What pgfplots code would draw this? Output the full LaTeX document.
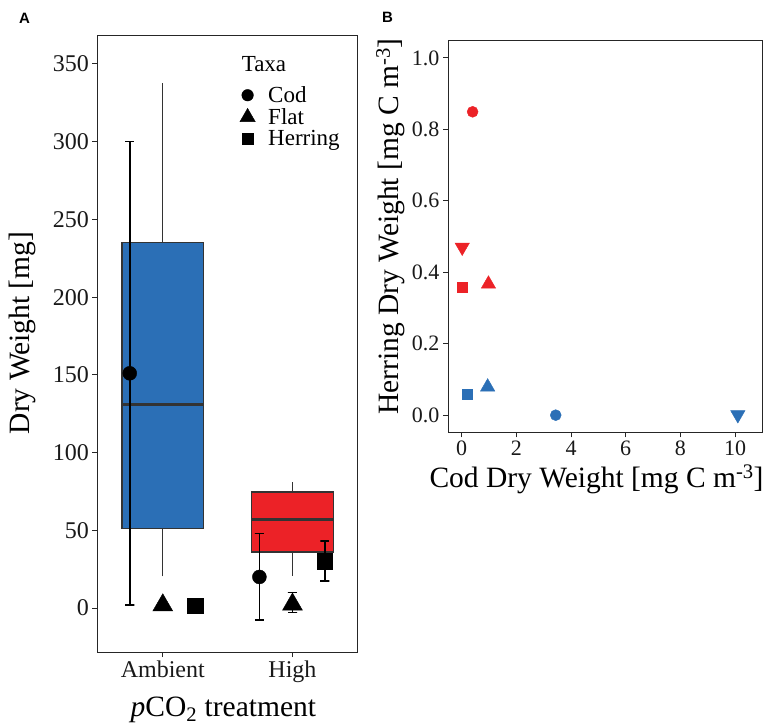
\documentclass[border=0pt]{standalone}
\usepackage{fontspec}
\setmainfont{Liberation Serif}
\newfontfamily\headfont{Liberation Sans}
\usepackage{pgfplots}
\pgfplotsset{compat=1.18}

\definecolor{ambblue}{HTML}{2B6FB6}
\definecolor{highred}{HTML}{EC2227}
\definecolor{boxline}{HTML}{333333}

\pgfplotsset{
  ggpanel/.style={
    scale only axis,
    axis line style={black!85, line width=1bp},
    tick style={black!85, line width=1bp},
    tick align=outside,
    major tick length=5bp,
    xtick pos=bottom, ytick pos=left,
    ticklabel style={font=\fontsize{22bp}{24bp}\selectfont, text=black!90},
    /pgf/number format/assume math mode=true,
    label style={font=\fontsize{29.5bp}{32bp}\selectfont},
    clip=false,
  },
  whisk/.style={forget plot, boxline, line width=1.2bp, no marks},
  ebar/.style={forget plot, black, line width=1.6bp, no marks},
}

\begin{document}
\begin{tikzpicture}
\path[use as bounding box] (0,0) rectangle (765bp,-725bp);

% ---------- panel A ----------
\begin{axis}[ggpanel,
    at={(97.3bp,-652bp)}, anchor=south west,
    width=260bp, height=616bp,
    ticklabel style={font=\fontsize{24bp}{26bp}\selectfont},
    xmin=0.495, xmax=2.5, ymin=-28.3, ymax=368,
    xtick={1,2}, xticklabels={Ambient,High},
    ytick={0,50,...,350},
    xlabel={\textit{p}CO\textsubscript{2} treatment},
    ylabel={Dry Weight [mg]},
    xlabel style={at={(ticklabel cs:0.485,8bp)}},
    ylabel style={at={(ticklabel cs:0.518,10bp)}},
    legend style={draw=none, fill=none, at={(0.5365,0.9248)}, anchor=north west,
      font=\fontsize{23bp}{24bp}\selectfont, row sep=0.5bp},
    legend cell align=left,
]
\addlegendimage{only marks, mark=*, mark size=5.8bp, black}
\addlegendimage{only marks, mark=triangle*, mark size=8.8bp, black}
\addlegendimage{only marks, mark=square*, mark size=5.5bp, black}
\legend{\hspace{11bp}Cod, \hspace{11bp}Flat, \hspace{11bp}Herring}
\node[anchor=west, inner sep=0pt, font=\fontsize{23bp}{24bp}\selectfont]
  at (rel axis cs:0.555,0.9545) {Taxa};

% boxplots: whisker, box, median
\addplot[whisk] coordinates {(1,20.3) (1,338)};
\addplot[forget plot, draw=boxline, fill=ambblue, line width=1.3bp, no marks]
  coordinates {(0.685,51) (1.315,51) (1.315,235) (0.685,235)} -- cycle;
\addplot[forget plot, boxline, line width=2.6bp, no marks] coordinates {(0.685,131) (1.315,131)};

\addplot[whisk] coordinates {(2,20.8) (2,80.8)};
\addplot[forget plot, draw=boxline, fill=highred, line width=1.3bp, no marks]
  coordinates {(1.685,36) (2.315,36) (2.315,74.6) (1.685,74.6)} -- cycle;
\addplot[forget plot, boxline, line width=2.6bp, no marks] coordinates {(1.685,56.8) (2.315,56.8)};

% error bars of the means
\addplot[ebar] coordinates {(0.71,2) (0.78,2) (0.745,2) (0.745,300) (0.71,300) (0.78,300)};
\addplot[ebar] coordinates {(1.71,-7.7) (1.78,-7.7) (1.745,-7.7) (1.745,48) (1.71,48) (1.78,48)};
\addplot[ebar] coordinates {(1.965,-2.8) (2.035,-2.8) (2,-2.8) (2,10) (1.965,10) (2.035,10)};
\addplot[ebar] coordinates {(2.215,17.4) (2.285,17.4) (2.25,17.4) (2.25,43) (2.215,43) (2.285,43)};

% means
\addplot[forget plot, only marks, black, mark=*, mark size=7bp] coordinates {(0.745,151) (1.745,20)};
\addplot[forget plot, only marks, black, mark=triangle*, mark size=11.5bp] coordinates {(1,1.8) (2,2.3)};
\addplot[forget plot, only marks, black, mark=square*, mark size=7.7bp] coordinates {(1.25,1.5) (2.25,30)};
\end{axis}

% ---------- panel B ----------
\begin{axis}[ggpanel,
    at={(448bp,-432.3bp)}, anchor=south west,
    width=314.7bp, height=391.6bp,
    xmin=-0.5, xmax=11.01, ymin=-0.048, ymax=1.048,
    xtick={0,2,...,10}, ytick={0,0.2,...,1.0},
    yticklabel style={/pgf/number format/.cd, fixed, fixed zerofill, precision=1},
    xlabel={Cod Dry Weight [mg C m\textsuperscript{-3}]},
    ylabel={Herring Dry Weight [mg C m\textsuperscript{-3}]},
    xlabel style={at={(ticklabel cs:0.472,2bp)}},
    ylabel style={at={(ticklabel cs:0.5255)}},
]
\addplot[only marks, mark=*, mark size=5.5bp, highred] coordinates {(0.40,0.849)};
\addplot[only marks, mark=triangle*, mark size=8.3bp, highred] coordinates {(0.98,0.367)};
\addplot[only marks, mark=square*, mark size=5bp, highred] coordinates {(0.01,0.359)};
\addplot[only marks, mark=triangle*, mark size=8.3bp, mark options={rotate=180}, highred] coordinates {(0.02,0.47)};
\addplot[only marks, mark=*, mark size=5.5bp, ambblue] coordinates {(3.44,0)};
\addplot[only marks, mark=triangle*, mark size=8.3bp, ambblue] coordinates {(0.95,0.079)};
\addplot[only marks, mark=square*, mark size=5bp, ambblue] coordinates {(0.22,0.06)};
\addplot[only marks, mark=triangle*, mark size=8.3bp, mark options={rotate=180}, ambblue] coordinates {(10.1,0.001)};
\end{axis}

\node[font=\headfont\bfseries\fontsize{15bp}{17bp}\selectfont] at (24.5bp,-18bp) {A};
\node[font=\headfont\bfseries\fontsize{15bp}{17bp}\selectfont] at (387.5bp,-17.7bp) {B};
\end{tikzpicture}
\end{document}
